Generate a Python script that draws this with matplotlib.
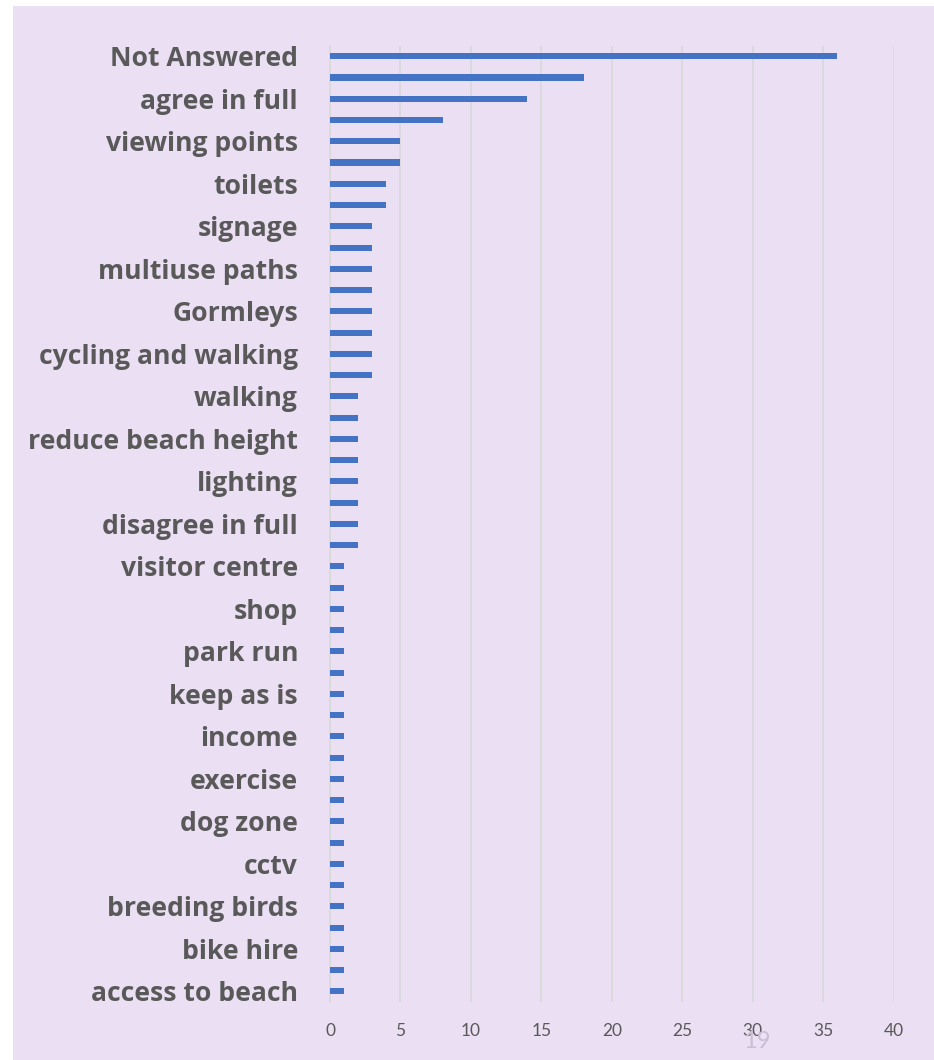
import matplotlib
matplotlib.use("Agg")
import matplotlib.pyplot as plt
from matplotlib.patches import Rectangle

categories = [
    "Not Answered", "", "agree in full", "", "viewing points", "", "toilets", "",
    "signage", "", "multiuse paths", "", "Gormleys", "", "cycling and walking", "",
    "walking", "", "reduce beach height", "", "lighting", "", "disagree in full", "",
    "visitor centre", "", "shop", "", "park run", "", "keep as is", "",
    "income", "", "exercise", "", "dog zone", "", "cctv", "",
    "breeding birds", "", "bike hire", "", "access to beach",
]
values = [
    36, 18, 14, 8, 5, 5, 4, 4,
    3, 3, 3, 3, 3, 3, 3, 3,
    2, 2, 2, 2, 2, 2, 2, 2,
    1, 1, 1, 1, 1, 1, 1, 1,
    1, 1, 1, 1, 1, 1, 1, 1,
    1, 1, 1, 1, 1,
]
x_ticks = [0, 5, 10, 15, 20, 25, 30, 35, 40]

W, H = 934, 1060
fig = plt.figure(figsize=(W / 100, H / 100), dpi=100)
fig.patch.set_facecolor("white")
bg = "#EBDFF4"
fig.patches.append(Rectangle((13 / W, 0), 1 - 13 / W, 1 - 6 / H,
                             transform=fig.transFigure, facecolor=bg,
                             edgecolor="none", zorder=-10))

# label font: scale so "Not Answered" is ~188 px wide like the reference
label_family = "Open Sans"
renderer = fig.canvas.get_renderer()
probe = fig.text(0, 0, categories[0], fontfamily=label_family,
                 fontweight="bold", fontsize=16)
w16 = probe.get_window_extent(renderer).width
probe.remove()
label_size = 16 * 188.0 / w16

left, right = 330 / W, 893.7 / W
bottom, top = (H - 1002) / H, (H - 45.7) / H
ax = fig.add_axes([left, bottom, right - left, top - bottom])
ax.set_facecolor("none")
ax.set_zorder(5)

pos = list(range(len(categories)))
ax.barh(pos, values, height=0.29, color="#4472C4", zorder=3)
ax.set_ylim(len(categories) - 0.5, -0.5)
ax.set_xlim(0, 40)

ax.set_yticks(pos)
ax.set_yticklabels(categories, fontfamily=label_family, fontweight="bold",
                   fontsize=label_size, color="#595959")
ax.tick_params(axis="y", length=0, pad=23)
ax.set_xticks(x_ticks)
ax.set_xticklabels([str(t) for t in x_ticks], fontfamily="Lato",
                   fontsize=12.5, color="#595959")
ax.tick_params(axis="x", length=0, pad=15)

ax.grid(axis="x", color="#D9D9D9", linewidth=1.3, zorder=1)
ax.grid(axis="y", visible=False)
for s in ["top", "right", "bottom"]:
    ax.spines[s].set_visible(False)
ax.spines["left"].set_color("#D9D9D9")
ax.spines["left"].set_linewidth(1.3)

fig.text(757 / W, 1 - 1041 / H, "19", fontsize=17, color="#C9BED4",
         ha="center", va="center", fontfamily="Lato", zorder=10)

fig.savefig("out.png", dpi=100, facecolor=fig.get_facecolor())
